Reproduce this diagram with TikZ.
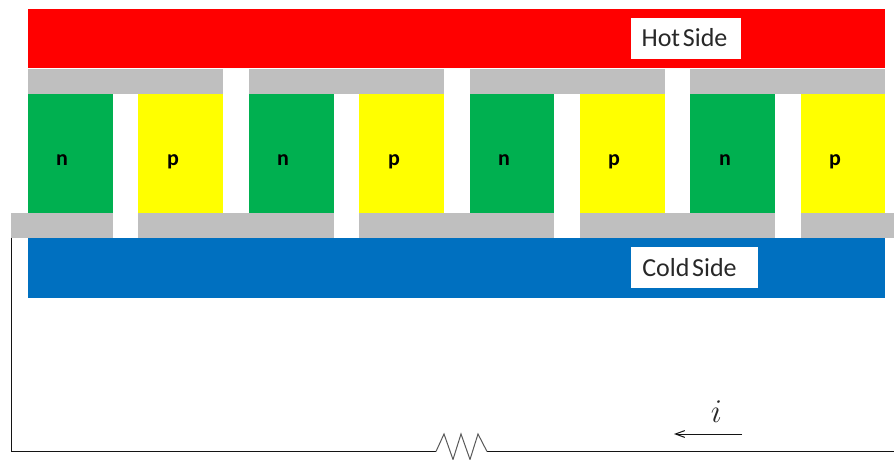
\documentclass[tikz,border=0pt]{standalone}
\usepackage{fontspec}
\setsansfont{Carlito}
\usetikzlibrary{arrows.meta}
\definecolor{hotred}{RGB}{255,0,0}
\definecolor{coldblue}{RGB}{0,112,192}
\definecolor{metalgray}{RGB}{191,191,191}
\definecolor{ngreen}{RGB}{0,176,80}
\definecolor{pyellow}{RGB}{255,255,0}
\definecolor{wirecolor}{RGB}{20,20,20}
\definecolor{labelgray}{RGB}{40,40,40}
\tikzset{
  x=0.75pt,y=-0.75pt,
  legtext/.style={font=\sffamily\bfseries\fontsize{16.5}{18}\selectfont,text=black,inner sep=0pt},
  sidelabel/.style={font=\sffamily\fontsize{19.5}{21}\selectfont,text=labelgray,inner sep=0pt,anchor=center},
  wire/.style={draw=wirecolor,line width=0.85pt,line join=miter},
  resistor/.style={draw=black!65,line width=0.75pt,line join=miter},
  currentarrow/.style={draw=wirecolor,line width=0.75pt,-{Straight Barb[length=7pt,width=8.5pt,angle'=40]}},
}
\begin{document}
\begin{tikzpicture}
\useasboundingbox (0,0) rectangle (894,460);
\fill[white] (0,0) rectangle (894,460);
% hot and cold plates
\fill[hotred] (28,9) rectangle (885,68.5);
\fill[coldblue] (28,238.5) rectangle (885,298);
% top conductors
\fill[metalgray] (28,69) rectangle (223,94);
\fill[metalgray] (249,69) rectangle (444,94);
\fill[metalgray] (470,69) rectangle (665,94);
\fill[metalgray] (690,69) rectangle (885,94);
% bottom conductors
\fill[metalgray] (11,213) rectangle (113,238);
\fill[metalgray] (138,213) rectangle (334,238);
\fill[metalgray] (359,213) rectangle (554,238);
\fill[metalgray] (580,213) rectangle (775,238);
\fill[metalgray] (801,213) rectangle (894,238);
% legs
\fill[ngreen] (28,94) rectangle (113,213);
\fill[pyellow] (138,94) rectangle (223,213);
\fill[ngreen] (249,94) rectangle (334,213);
\fill[pyellow] (359,94) rectangle (444,213);
\fill[ngreen] (470,94) rectangle (554,213);
\fill[pyellow] (580,94) rectangle (665,213);
\fill[ngreen] (690,94) rectangle (775,213);
\fill[pyellow] (801,94) rectangle (885,213);
% leg labels
\node[legtext] (n1) at (62,160) {n};
\node[legtext] (p1) at (173,162) {p};
\node[legtext] (n2) at (283,160) {n};
\node[legtext] (p2) at (394,162) {p};
\node[legtext] (n3) at (504,160) {n};
\node[legtext] (p3) at (614,162) {p};
\node[legtext] (n4) at (725,160) {n};
\node[legtext] (p4) at (835,162) {p};
% side labels
\fill[white] (631,18) rectangle (741,59);
\fill[white] (631,247) rectangle (758,288);
\node[sidelabel] (hot) at (684.5,38) {Hot\hspace{-0.12em} Side};
\node[sidelabel] (cold) at (689.5,268) {Cold\hspace{-0.12em} Side};
% external circuit
\coordinate (wirestart) at (11.5,238);
\coordinate (corner) at (11.5,451.5);
\coordinate (resleft) at (436,451.5);
\coordinate (resright) at (487,451.5);
\coordinate (wireend) at (894,451.5);
\draw[wire] (wirestart) -- (corner) -- (resleft);
\draw[wire] (resright) -- (wireend);
\draw[resistor] (resleft) -- (444,434) -- (453,459.5) -- (461,434) -- (470,459.5) -- (478,434) -- (resright);
% current
\coordinate (curstart) at (742,434);
\coordinate (curend) at (674,434);
\draw[currentarrow] (curstart) -- (curend);
\node[inner sep=0pt,text=labelgray] (cur) at (716.5,411.5) {\fontsize{29}{30}\selectfont$i$};
\end{tikzpicture}
\end{document}
